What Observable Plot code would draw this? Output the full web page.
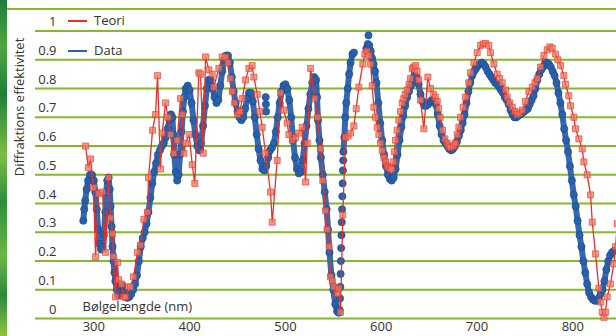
<!DOCTYPE html>
<html>
<head>
<meta charset="utf-8">
<script src="https://cdn.jsdelivr.net/npm/d3@7"></script>
<script src="https://cdn.jsdelivr.net/npm/@observablehq/plot@0.6"></script>
<style>
  html, body { margin: 0; padding: 0; background: #fff; }
  #wrap { position: relative; width: 616px; height: 336px; overflow: hidden;
          font-family: "Open Sans", sans-serif; color: #333; }
  #wrap svg { position: absolute; left: 0; top: 0; }
  #strip { position: absolute; left: 0; top: 0; width: 7px; height: 336px;
           background: linear-gradient(180deg, #1f7d3a 0%, #4ea83f 14%, #1e8038 28%, #7cbd44 46%,
                       #2d8f3b 60%, #6cb743 76%, #2a8a3a 88%, #8cc63f 100%); }
  #topline { position: absolute; left: 7px; top: 8px; width: 609px; height: 2px; background: #86b828; }
  #ytitle { position: absolute; left: 19px; top: 107px; transform: translate(-50%, -50%) rotate(-90deg);
            white-space: nowrap; font-size: 13px; color: #333; }
  .sw { position: absolute; left: 68px; width: 19px; height: 2.5px; }
  .lt { position: absolute; left: 94px; font-size: 13px; line-height: 16px; color: #333; }
</style>
</head>
<body>
<div id="wrap">
  <div id="strip"></div>
  <div id="topline"></div>
</div>
<script>
// ---- tick labels ----
const yTicks = [0, 0.1, 0.2, 0.3, 0.4, 0.5, 0.6, 0.7, 0.8, 0.9, 1];
const yTickLabels = ["0", "0.1", "0.2", "0.3", "0.4", "0.5", "0.6", "0.7", "0.8", "0.9", "1"];
const xTicks = [300, 400, 500, 600, 700, 800];
const xTickLabels = ["300", "400", "500", "600", "700", "800"];
const xTitle = "Bølgelængde (nm)";
const yTitle = "Diffraktions effektivitet";
const seriesNames = ["Teori", "Data"];

// ---- Data (measured), main continuous trace: wavelength (nm) / efficiency; null = no trace ----
const dataNm = [289,290,291,292.5,294,296,298,300,301.5,303,304.5,306,307.5,309,310.5,312,313,314,315.5,316.5,317.5,318.5,319.5,320.5,321.5,322.5,324,325.5,327,328.5,330,331.5,333,335,337,339,341,343,345,347,349,351,353,355,357,359,361,363,365,367,369,371,373,375,377,379,380.5,382,383,384,385.5,387,388.5,390,391.5,393,394.5,396,398,400,402,404,406,408,410,412,414,416,418,420,422,424,426,428,430,432,434,436,438,440,442,444,446,448,450,452,454,456,458,460,462,464,466,468,470,472,474,476,478,480,482,484,486,488,490,492,494,496,498,500,502,504,506,508,510,512,514,516,518,520,522,524,526,528,530,532,533,534,535.5,537,539,541,543,544.5,546,548,550,552,554,555.5,556.5,
  558,
  560.5,561.5,562.5,563.5,565,566.5,568,570,571.5,
  578,
  584.5,586,587.5,589,590.5,592,593.5,595,597,599,601,603,605,607,609,611,613,615,617,619,621,623,625,627,629,631,633,635,637,639,641,643,645,647,649,651,653,655,657,659,661,663,665,667,669,671,673,675,677,679,681,683,685,687,689,691,693,695,697,699,701,703,705,707,709,711,713,715,717,719,721,723,725,727,729,731,733,735,737,739,741,743,745,747,749,751,753,755,757,759,761,763,765,767,769,771,773,775,777,779,781,783,785,787,789,791,793,795,797,799,801,803,805,807,809,811,813,815,817,819,821,823,825,827,829,831,833,835,837,839,841,843,845.5];
const dataVal = [0.34,0.38,0.41,0.45,0.48,0.50,0.50,0.48,0.44,0.38,0.31,0.26,0.24,0.25,0.29,0.37,0.44,0.48,0.49,0.45,0.39,0.32,0.25,0.20,0.16,0.13,0.10,0.08,0.09,0.115,0.115,0.09,0.075,0.072,0.075,0.085,0.10,0.12,0.15,0.20,0.25,0.28,0.30,0.33,0.37,0.42,0.47,0.51,0.54,0.57,0.585,0.60,0.61,0.63,0.66,0.69,0.71,0.70,0.64,0.57,0.51,0.48,0.50,0.57,0.65,0.72,0.77,0.80,0.81,0.795,0.75,0.69,0.64,0.60,0.585,0.61,0.67,0.74,0.80,0.83,0.83,0.80,0.77,0.75,0.76,0.81,0.86,0.90,0.915,0.915,0.89,0.84,0.79,0.75,0.72,0.70,0.69,0.70,0.73,0.765,0.785,0.785,0.755,0.70,0.64,0.59,0.55,0.52,0.515,0.53,0.56,0.585,0.595,0.61,0.65,0.70,0.75,0.79,0.81,0.815,0.80,0.76,0.70,0.62,0.56,0.52,0.505,0.51,0.55,0.61,0.67,0.73,0.78,0.82,0.84,0.83,0.77,0.69,0.62,0.56,0.50,0.44,0.38,0.31,0.23,0.15,0.10,0.05,0.025,0.02,0.03,
  null,
  0.58,0.63,0.70,0.75,0.80,0.85,0.89,0.92,0.925,
  null,
  0.94,0.955,0.95,0.93,0.905,0.885,0.86,0.82,0.75,0.68,0.62,0.57,0.53,0.50,0.485,0.48,0.49,0.52,0.57,0.62,0.665,0.705,0.74,0.77,0.79,0.81,0.83,0.845,0.84,0.815,0.78,0.755,0.74,0.74,0.745,0.755,0.76,0.76,0.745,0.71,0.67,0.64,0.62,0.61,0.60,0.59,0.585,0.59,0.60,0.615,0.635,0.655,0.68,0.71,0.75,0.79,0.82,0.845,0.86,0.87,0.88,0.885,0.89,0.885,0.875,0.86,0.85,0.84,0.83,0.82,0.815,0.805,0.795,0.785,0.77,0.76,0.745,0.725,0.71,0.70,0.70,0.705,0.71,0.715,0.72,0.725,0.73,0.745,0.76,0.775,0.80,0.83,0.85,0.865,0.875,0.885,0.89,0.885,0.875,0.86,0.845,0.82,0.785,0.75,0.71,0.66,0.62,0.58,0.53,0.48,0.43,0.39,0.34,0.29,0.25,0.20,0.16,0.12,0.09,0.075,0.066,0.062,0.062,0.07,0.085,0.10,0.13,0.17,0.20,0.22,0.23,0.235,0.24];

// ---- Data, isolated samples (steep rise, stray points) ----
const dataSparseNm = [557.0,557.3,557.6,557.9,558.2,558.5,558.8,559.1,559.4,559.7,560.0,560.3,479.4,479.6,479.8,586.7];
const dataSparseVal = [0.07,0.11,0.155,0.20,0.245,0.29,0.335,0.38,0.425,0.47,0.515,0.55,0.77,0.745,0.72,0.985];

// ---- Teori (theory) ----
const teoriNm = [291.3,294.2,296.6,299.7,301.8,304.9,309.1,312.2,315.3,317.4,319.5,320.6,322.7,324.7,325.8,328.9,331,333.1,336.2,338.3,341.4,345.6,348.7,352.2,356,357.1,361.3,364.4,366.5,369.6,371.4,374.8,377.5,380,383.5,387,390.5,392.3,394,395.7,399.5,402.7,405.4,409.6,411.4,414.2,416.6,420.1,423.6,425.3,430.5,434,437.5,440,442.5,444.5,447,450,452.5,454.9,458.4,461.8,465.3,467,470.6,473.3,475.8,479.2,484.4,486.2,491.4,494.9,498.1,501.9,503.6,507.1,510.5,514,517.5,521,522.8,526.2,530.7,533.5,536.6,539,541.9,543.6,545.6,547.1,549,550.6,554.1,555.7,557.5,559.9,562.7,565.5,568,571.4,573.9,576.6,580.8,582.9,585,587.1,588.9,590.6,592.3,594,595.8,597.5,599.3,601,602.7,604.5,606.2,608,609.5,611,612.5,613.7,614.9,616.6,618.4,620.2,621.9,623.5,625,627.1,629,630.6,632.4,634,635.8,637.5,639.2,641,644.5,648.6,651.5,654.5,656.5,658.5,660,661.5,664,666.5,668.9,670.5,672.3,675.5,677.5,679.3,681,682.8,685.5,688,691.4,693.2,696.7,700.2,703.7,706.5,708.9,712.3,714.1,717.6,721.1,723.5,726.3,729.8,731.5,734,736.8,739.5,742,744.5,747.2,750.5,754.1,757.7,760.5,762.9,766.3,769.8,773.3,776,778.5,782,784.5,787.2,790.6,792.4,795.8,797.6,801.1,802.8,806.3,809.8,811.5,815,818.5,820.3,823.7,827.2,829,830.7,832.4,834.1,835.9,839.3,842.8,844.6,846.5];
const teoriVal = [0.60,0.525,0.555,0.455,0.215,0.435,0.44,0.23,0.49,0.35,0.295,0.215,0.075,0.195,0.135,0.12,0.075,0.075,0.11,0.11,0.145,0.23,0.255,0.345,0.37,0.49,0.655,0.71,0.845,0.52,0.645,0.75,0.70,0.64,0.575,0.62,0.765,0.71,0.575,0.61,0.64,0.535,0.47,0.855,0.85,0.575,0.91,0.865,0.85,0.805,0.87,0.91,0.91,0.89,0.835,0.79,0.75,0.71,0.72,0.765,0.83,0.87,0.88,0.84,0.78,0.72,0.665,0.575,0.44,0.335,0.55,0.785,0.725,0.68,0.64,0.62,0.63,0.645,0.665,0.475,0.61,0.87,0.765,0.70,0.59,0.48,0.375,0.31,0.25,0.145,0.13,0.11,0.087,0.105,0.022,0.36,0.63,0.635,0.645,0.67,0.73,0.805,0.885,0.92,0.93,0.915,0.885,0.81,0.735,0.70,0.665,0.64,0.61,0.585,0.56,0.545,0.53,0.525,0.52,0.52,0.545,0.58,0.62,0.655,0.69,0.72,0.75,0.765,0.78,0.795,0.815,0.835,0.87,0.875,0.88,0.86,0.83,0.76,0.66,0.84,0.80,0.78,0.77,0.755,0.73,0.70,0.655,0.625,0.61,0.60,0.595,0.60,0.61,0.64,0.665,0.70,0.735,0.77,0.82,0.855,0.89,0.925,0.95,0.955,0.957,0.95,0.925,0.885,0.85,0.835,0.82,0.795,0.77,0.75,0.735,0.72,0.71,0.715,0.725,0.755,0.79,0.805,0.82,0.835,0.875,0.915,0.935,0.945,0.94,0.92,0.90,0.88,0.845,0.815,0.775,0.74,0.70,0.66,0.625,0.59,0.545,0.50,0.43,0.335,0.225,0.105,0.057,0.022,0.004,0.022,0.075,0.12,0.19,0.25,0.33];

// ---- tables built from the arrays ----
const dataMain = dataNm.map((nm, i) => ({nm, v: dataVal[i]}));
const dataSparse = dataSparseNm.map((nm, i) => ({nm, v: dataSparseVal[i]}));
const teori = teoriNm.map((nm, i) => ({nm, v: teoriVal[i]}));
const yTickRows = yTicks.map((v, i) => ({v, label: yTickLabels[i]}));
const xTickRows = xTicks.map((x, i) => ({x, label: xTickLabels[i]}));

const GRID = "#86b828";
const BLUE = "#2a60aa";
const BLUE_EDGE = "#1c4c90";
const RED = "#e4322b";
const RED_FILL = "#ef7a60";

const chart = Plot.plot({
  width: 616,
  height: 336,
  marginLeft: 35,
  marginRight: 0,
  marginTop: 9,
  marginBottom: 18,
  x: {domain: [239.1, 845.6], axis: null},
  y: {domain: [0, 1.075], axis: null},
  style: {fontFamily: "'Open Sans', sans-serif", fontSize: "13px", color: "#333", background: "transparent"},
  marks: [
    Plot.ruleY(yTickRows, {y: "v", stroke: GRID, strokeWidth: 2}),
    Plot.text(yTickRows, {y: "v", text: "label", frameAnchor: "left", textAnchor: "end", dx: 21, dy: -9, fill: "#333"}),
    Plot.text(xTickRows, {x: "x", text: "label", frameAnchor: "bottom", dy: 12, fill: "#333"}),
    Plot.text([xTitle], {text: d => d, frameAnchor: "bottom-left", textAnchor: "start", dx: 47, dy: -8, fill: "#333"}),
    // Data
    Plot.line(dataMain, {x: "nm", y: "v", stroke: BLUE, strokeWidth: 6, strokeOpacity: 0.95}),
    Plot.dot(dataMain, {x: "nm", y: "v", r: 3.6, fill: BLUE, stroke: BLUE_EDGE, strokeWidth: 0.7}),
    Plot.dot(dataSparse, {x: "nm", y: "v", r: 3.6, fill: BLUE, stroke: BLUE_EDGE, strokeWidth: 0.7}),
    // Teori
    Plot.line(teori, {x: "nm", y: "v", stroke: RED, strokeWidth: 1.3}),
    Plot.dot(teori, {x: "nm", y: "v", symbol: "square", r: 3.4, fill: RED_FILL, fillOpacity: 0.75, stroke: RED, strokeWidth: 0.8, strokeOpacity: 0.75})
  ]
});

const wrap = document.getElementById("wrap");
wrap.insertBefore(chart, wrap.firstChild);

// y-axis title
const yt = document.createElement("div");
yt.id = "ytitle";
yt.textContent = yTitle;
wrap.appendChild(yt);

// legend
const legColors = [RED, BLUE];
const legY = [21, 51];
seriesNames.forEach((name, i) => {
  const sw = document.createElement("div");
  sw.className = "sw";
  sw.style.top = (legY[i] - 1.25) + "px";
  sw.style.background = legColors[i];
  wrap.appendChild(sw);
  const t = document.createElement("div");
  t.className = "lt";
  t.style.top = (legY[i] - 9) + "px";
  t.textContent = name;
  wrap.appendChild(t);
});
</script>
</body>
</html>
